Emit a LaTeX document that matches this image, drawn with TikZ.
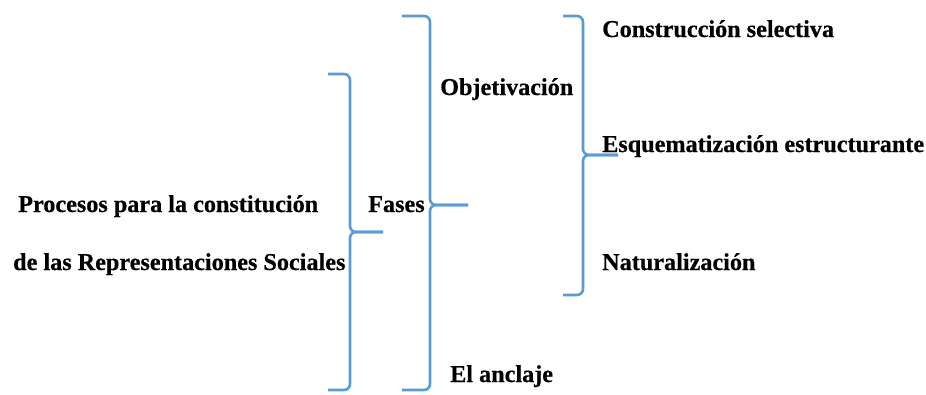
\documentclass[tikz,border=0pt]{standalone}
\usepackage{fontspec}
\setmainfont{Liberation Serif}[BoldFeatures={FakeBold=0.5}]
\begin{document}
\begin{tikzpicture}[x=1pt,y=-1pt,
  lbl/.style={anchor=base west,inner sep=0pt,font=\fontsize{24.2}{28}\selectfont\bfseries},
  brace/.style={draw={rgb,255:red,91;green,155;blue,213},line width=2.6pt,rounded corners=6pt}]
\useasboundingbox (0,0) rectangle (926,394);
% texts
\node[lbl] (p1) at (18,212) {Procesos para la constitución};
\node[lbl] (p2) at (13,270) {de las Representaciones Sociales};
\node[lbl] (fa) at (368,212) {Fases};
\node[lbl] (ob) at (440,95) {Objetivación};
\node[lbl] (an) at (450,382) {El anclaje};
\node[lbl] (cs) at (602,37) {Construcción selectiva};
\node[lbl] (es) at (602,152) {Esquematización estructurante};
\node[lbl] (na) at (602,270) {Naturalización};
% brace 1
\coordinate (b1t) at (328,74);
\coordinate (b1m) at (383,232);
\coordinate (b1b) at (328,390);
\path[brace] (b1t) -- (350,74) -- (350,232) -- (b1m);
\path[brace] (b1m) -- (350,232) -- (350,390) -- (b1b);
% brace 2
\coordinate (b2t) at (402,16);
\coordinate (b2m) at (468,205);
\coordinate (b2b) at (402,390);
\path[brace] (b2t) -- (430,16) -- (430,205) -- (b2m);
\path[brace] (b2m) -- (430,205) -- (430,390) -- (b2b);
% brace 3
\coordinate (b3t) at (563,16);
\coordinate (b3m) at (618,155);
\coordinate (b3b) at (563,295);
\path[brace] (b3t) -- (583,16) -- (583,155) -- (b3m);
\path[brace] (b3m) -- (583,155) -- (583,295) -- (b3b);
\end{tikzpicture}
\end{document}
